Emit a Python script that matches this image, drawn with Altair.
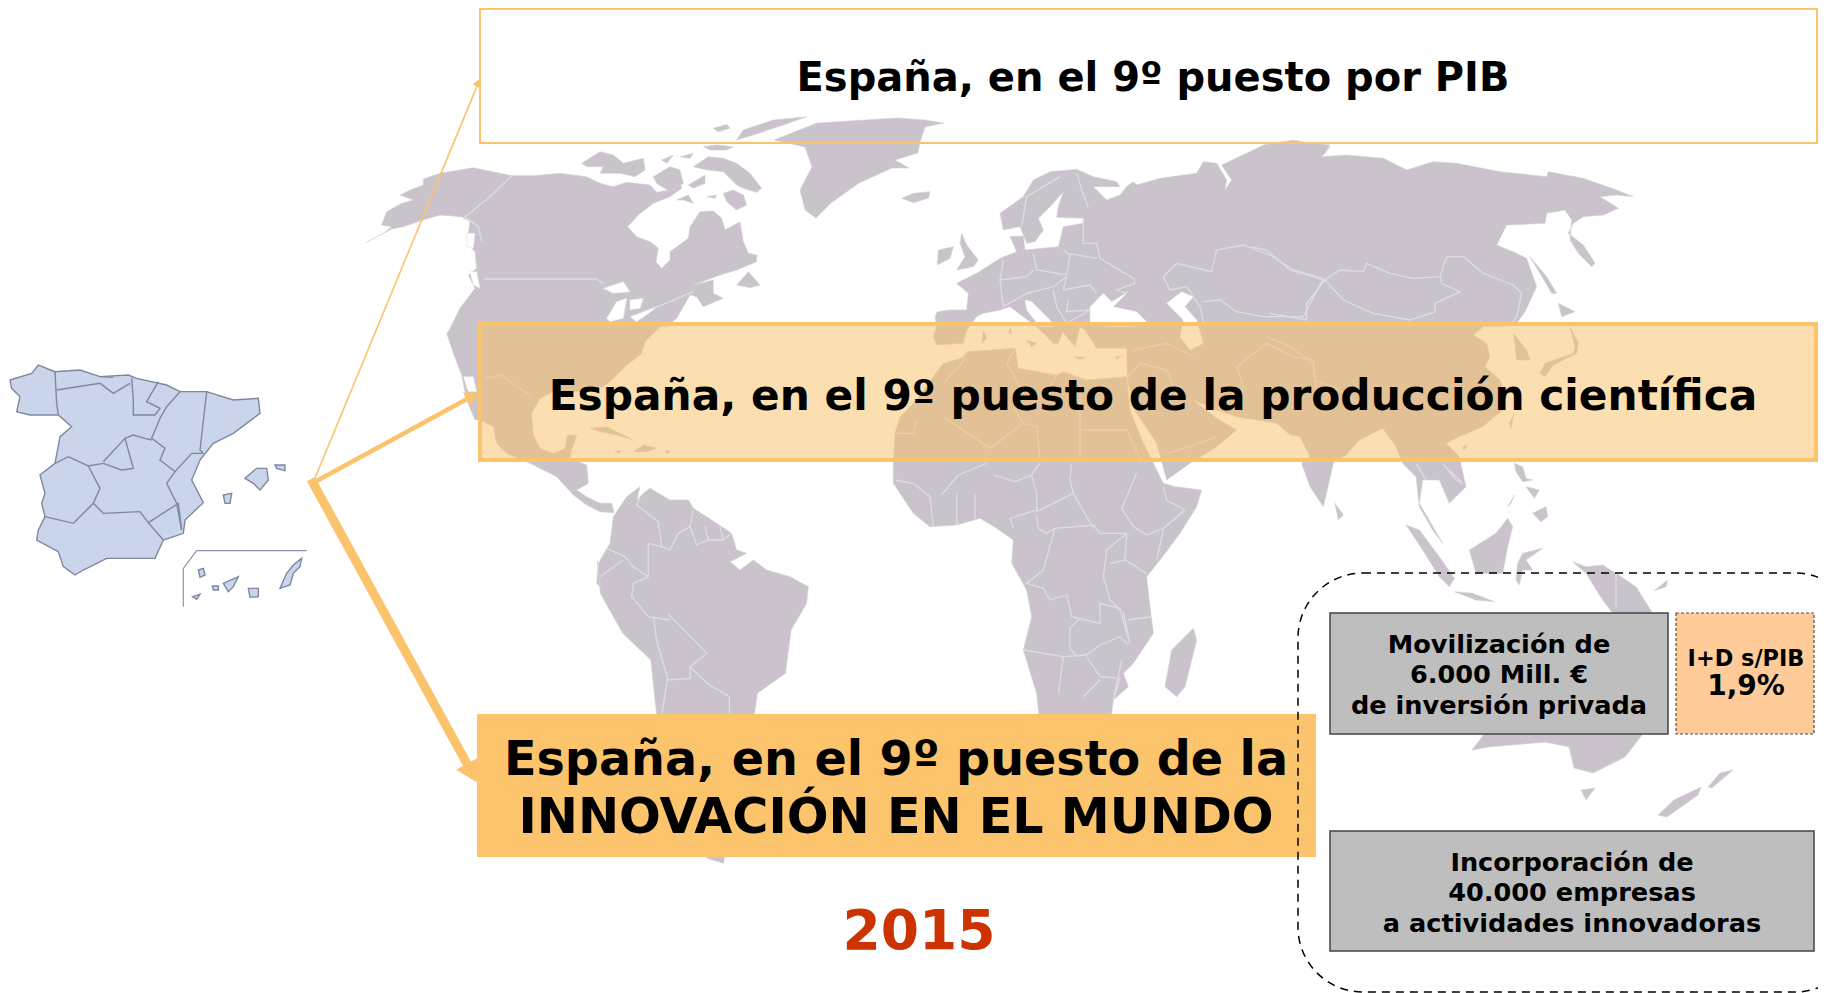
import math
import altair as alt

# ---------- picture crops: (x0, y0) origin, points read at 3x ----------
def T(x0, y0, pts):
    return [[x0 + p[0] / 3, y0 + p[1] / 3] for p in pts]

A = (360, 105)   # North America crop
B = (850, 130)   # Europe crop
C = (1250, 130)  # East Asia crop
N = (430, 320)   # Central / north of South America crop
E = (880, 400)   # Africa crop
D = (1326, 400)  # South-East Asia crop
M = (900, 320)   # Mediterranean / Middle East crop
S = (0, 340)     # Spain crop

def Z(x0, y0, fx, pts):
    return [[x0 + p[0] / fx, y0 + p[1] / 3] for p in pts]

# ---------- WORLD OUTLINES ----------
north_america_a = [(20,412),(70,385),(95,365),(65,360),(80,320),(125,295),(160,285),(120,270),(150,255),(190,240),(190,222),(240,205),(340,188),(420,205),(455,212),(520,212),(600,205),(680,215),(720,235),(760,245),(800,232),(870,240),(890,262),(930,255),(955,220),(965,250),(930,275),(880,295),(835,330),(803,365),(830,395),(870,410),(895,430),(888,470),(905,490),(930,465),(930,440),(985,400),(990,365),(1020,320),(1060,318),(1085,340),(1095,375),(1140,350),(1150,410),(1165,445),(1190,450),(1190,470),(1130,495),(1080,510),(1000,540),(1060,525),(1060,565),(1090,580),(1030,605),(1010,575),(990,570),(950,640),(920,665)]
north_america_n = [(690,20),(645,65),(635,100),(580,145),(545,180),(520,200),(470,215),(370,215),(330,235),(305,280),(310,345),(330,385),(370,400),(405,385),(412,345),(440,345),(425,390),(420,415),(470,435),(475,490),(440,510),(470,530),(510,550),(545,550),(552,578),(510,575),(470,555),(430,525),(380,470),(300,430),(230,400),(200,370),(190,320),(150,300),(135,300),(110,240),(95,165),(70,100),(50,40)]
north_america_w = [(265,680),(300,610),(345,550),(325,510),(350,490),(345,440),(325,420),(325,385),(330,350),(305,335),(240,330),(190,345),(130,365),(95,372)]
greenland = [(774,140),(817,123),(897,118),(925,120),(944,123),(925,127),(920,142),(918,153),(895,160),(909,168),(892,168),(859,183),(831,203),(816,218),(805,210),(800,190),(812,167),(805,147)]
arctic = [
 [(1000,185),(1045,155),(1090,160),(1130,175),(1170,205),(1205,250),(1190,262),(1150,250),(1130,240),(1090,200),(1040,195)],
 [(1090,265),(1120,255),(1150,270),(1160,300),(1130,315),(1100,290)],
 [(665,175),(720,140),(760,150),(790,175),(850,160),(855,195),(825,215),(780,205),(720,205),(730,185),(680,185)],
 [(1130,105),(1150,75),(1240,45),(1340,35),(1270,60),(1180,90)],
 [(1030,125),(1070,120),(1120,125),(1100,135),(1050,135)],
 [(1060,70),(1100,58),(1110,70),(1075,80)],
 [(905,165),(940,150),(920,175)],
 [(960,155),(1000,145),(990,160)],
 [(880,215),(930,185),(960,195),(970,235),(930,260),(890,235)],
 [(985,240),(1035,210),(1035,235),(1000,250)],
 [(950,285),(985,270),(1000,295),(970,285)],
 [(1040,275),(1070,270),(1065,280)],
 [(1130,540),(1165,500),(1200,540),(1170,548)],
]
caribbean = [
 [(480,325),(530,320),(610,360),(560,345),(510,335)],
 [(610,395),(640,375),(680,385),(650,395)],
 [(555,392),(575,392),(565,400)],
 [(705,392),(720,392),(712,400)],
]
eurasia_b1 = [(450,250),(520,200),(550,150),(600,125),(680,118),(730,140),(800,155),(810,170),(760,170),(730,170),(770,210),(810,195),(830,170),(850,155),(860,165),(930,145),(1040,130),(1060,95),(1100,100),(1130,150),(1125,180),(1145,150),(1115,105),(1190,70),(1240,45),(1330,30),(1380,40),(1440,45),(1420,75)]
eurasia_c = [(240,50),(215,80),(290,75),(400,85),(470,120),(550,95),(620,100),(750,125),(890,140),(895,125),(1000,145),(1100,180),(1150,200),(1100,195),(1050,200),(1105,235),(1060,255),(1000,260),(970,280),(955,310),(1000,345),(1035,400),(1025,410),(985,370),(960,330),(965,270),(945,240),(890,250),(885,280),(770,285),(740,345),(800,370),(830,385),(860,470),(825,545),(800,580),(760,590),(700,590),(670,615),(710,640),(720,680),(705,710),(750,750),(770,800),(750,850)]
eurasia_d = [(530,30),(470,80),(400,110),(360,130),(400,170),(420,260),(370,310),(340,240),(290,240),(280,310),(350,430),(320,390),(280,320),(270,230),(230,190),(210,140),(170,85),(100,120),(60,165),(20,190)]
eurasia_e = [(1360,190),(1330,320),(1290,260),(1265,190)]
eurasia_m = [(1230,410),(1200,350),(1170,345),(1130,310),(1010,290),(950,270),(880,240),(950,295),(1010,330),(950,380),(870,430),(800,480),(770,370),(700,265),(682,175),(680,85),(590,85),(555,30)]
eurasia_b2 = [(690,590),(675,650),(650,620),(625,590),(640,600),(625,640),(610,640),(560,590),(480,530),(450,540),(400,550),(380,560),(350,600),(340,640),(260,645),(250,620),(260,590),(255,560),(262,545),(300,540),(350,540),(355,490),(320,460),(380,430),(450,385),(500,365),(480,320),(520,318),(525,360),(625,350),(640,290),(700,280),(700,265),(620,262),(625,230),(640,185),(600,230),(565,265),(580,300),(555,335),(530,340),(510,290),(460,300)]
europe_isles = [
 [(335,310),(350,345),(385,390),(370,410),(320,420),(345,380),(330,340)],
 [(265,360),(310,350),(300,385),(262,405)],
 [(155,205),(190,190),(240,185),(235,205),(190,218)],
 [(400,600),(410,625),(395,640)],
 [(480,592),(487,610),(475,610)],
 [(530,630),(560,640),(545,650)],
 [(670,680),(710,682),(690,688)],
 [(795,680),(815,678),(800,688)],
]
asia_isles_c = [
 [(960,590),(975,650),(970,670),(885,700),(870,730),(885,740),(910,705),(980,670),(985,640)],
 [(925,520),(975,545),(935,560)],
 [(840,380),(890,440),(920,490),(905,490),(870,430)],
 [(790,610),(830,660),(840,690),(800,690),(795,640)],
]
asia_isles_d = [
 [(550,70),(565,40),(555,85)],
 [(410,140),(425,135),(415,150)],
 [(240,375),(280,390),(340,470),(385,535),(370,560),(340,530),(290,450)],
 [(385,575),(440,580),(505,605),(450,600)],
 [(430,450),(510,400),(545,355),(560,380),(545,440),(530,520),(450,520)],
 [(575,490),(590,460),(650,445),(600,480),(620,510),(590,510),(580,555),(570,540)],
 [(565,190),(590,200),(600,235),(620,240),(590,245),(570,215)],
 [(620,340),(660,320),(665,350),(645,365)],
 [(545,320),(565,285),(555,310)],
 [(600,260),(640,270),(625,295)],
 [(740,485),(780,500),(830,495),(870,520),(930,560),(980,640),(860,640),(830,600),(780,520)],
 [(985,572),(1025,540),(1020,560)],
]
oceania = [
 [(1472,750),(1482,737),(1500,700),(1640,700),(1642,735),(1625,757),(1593,773),(1574,768),(1569,747),(1545,742),(1489,747)],
 [(1581,790),(1595,788),(1586,800)],
 [(1658,815),(1674,800),(1701,787),(1698,795),(1667,817)],
 [(1708,787),(1720,773),(1733,770),(1712,788)],
]
africa_m = [(100,170),(130,130),(185,115),(200,95),(345,85),(355,145),(470,165),(490,155),(560,180),(680,170),(690,270)]
africa_e1 = [(790,130),(850,250),(885,260),(965,270),(950,320),(900,400),(840,480),(800,530),(810,620),(820,700),(760,790),(730,820),(745,860),(700,900),(690,980),(480,980),(470,880),(430,750),(455,650),(440,570),(395,490),(400,420),(350,385),(300,355),(230,375),(150,380),(100,340),(40,250),(40,190),(45,100),(60,50),(110,0)]
madagascar = [(940,685),(950,720),(915,860),(890,890),(855,860),(875,750)]
sri_lanka = [(1365,310),(1390,345),(1375,360)]
samerica_n = [(550,590),(590,530),(630,500),(620,540),(640,520),(660,505),(720,540),(775,540),(790,565),(860,610),(905,640),(920,690),(950,700),(900,725),(930,750),(970,720),(1010,750),(1080,770),(1135,800),(1130,850)]
samerica_s = [(590,510),(580,640),(530,700),(525,760),(480,1000),(470,1210),(440,1195),(350,900),(350,760),(340,600),(290,520),(250,400),(245,300)]
samerica_n2 = [(510,800),(500,790),(505,730),(540,670)]
# water cut out of the land
lakes_a = [[(730,550),(790,530),(810,560),(760,565)],[(740,640),(770,590),(800,580),(790,640),(750,650)],[(810,585),(850,580),(840,610),(810,615)],[(810,635),(890,605),(880,615),(830,650)],[(320,385),(345,385),(340,430),(322,425)],[(330,500),(350,500),(360,550),(340,540)]]
lake_baja = [(100,170),(130,170),(140,215),(115,215)]
seas_b = [[(720,575),(720,530),(760,490),(785,515),(835,485),(790,530),(860,545),(890,575),(850,590),(780,590),(730,585)],
          [(950,520),(995,485),(1030,500),(1005,530),(1040,570),(1060,640),(1020,660),(990,620),(1000,570)],
          [(525,510),(545,515),(600,570),(610,590),(570,590),(530,540)]]
# borders
borders_a = [[(455,212),(385,280),(315,335),(355,365),(365,410)],[(370,522),(710,522),(730,535)],[(1000,560),(930,590),(880,610)]]
borders_n = [[(165,175),(215,165),(260,200),(300,225)],[(630,530),(620,555),(685,605),(695,680),(655,670)],[(695,680),(720,690),(745,640),(780,620)],[(790,570),(780,620),(800,675),(835,660),(880,660),(905,640)],[(825,620),(835,660)],[(870,620),(880,660)],[(530,685),(585,710),(610,740),(655,770)],[(510,770),(580,720)],[(655,670),(655,770),(610,790),(605,830),(655,890),(720,900)]]
borders_s = [[(345,470),(350,540),(370,655),(360,760)],[(370,460),(440,580),(410,620),(410,655),(370,660)],[(410,620),(440,670),(480,710),(480,760)]]
borders_e = [[(50,100),(100,100),(110,60)],[(190,50),(330,145),(430,70),(470,80),(480,180)],[(430,70),(400,20)],[(600,40),(600,175)],[(600,90),(740,90),(780,175)],[(45,240),(100,250),(150,290),(160,380)],[(185,285),(235,225),(270,210),(320,190)],[(230,280),(230,375)],[(285,280),(285,355)],[(340,225),(405,245),(455,225),(470,280),(470,330),(390,355),(400,385)],[(450,230),(480,190)],[(575,190),(570,240),(580,280),(640,385)],[(470,335),(580,280)],[(470,345),(475,385),(500,400),(525,385),(640,375),(660,400),(740,400)],[(770,220),(725,325),(760,380),(800,405),(850,385),(915,330),(860,300),(850,260)],[(525,385),(490,510),(440,550),(490,565),(510,600),(560,585),(575,650),(660,670),(660,610),(720,625),(735,680),(750,730),(730,635)],[(740,400),(680,450),(670,530),(690,600),(720,630)],[(740,400),(735,480),(800,520)],[(690,490),(735,480)],[(850,390),(830,480)],[(745,660),(815,650)],[(430,750),(550,770),(620,765),(660,735),(720,710),(745,735)],[(570,685),(570,745),(590,770)],[(570,685),(600,655)],[(620,770),(660,830),(720,835),(700,900),(725,780)],[(550,770),(535,880)],[(660,840),(610,890)]]
borders_b = [[(630,140),(530,200),(515,290)],[(680,130),(700,195),(715,235)],[(700,265),(700,340),(740,340),(750,385),(850,445),(855,460),(800,480),(830,490)],[(655,370),(740,385)],[(550,370),(560,420),(650,435),(660,375),(640,360)],[(650,440),(640,480),(720,465),(740,490)],[(460,390),(450,450),(530,440),(550,420)],[(450,450),(460,530)],[(460,530),(530,490),(610,470),(650,440)],[(610,480),(620,530),(650,580),(720,540),(650,545),(655,510)],[(940,440),(980,400),(1085,425),(1100,360),(1180,345),(1260,375),(1330,420),(1420,445)],[(940,440),(960,480),(1010,470),(1050,530),(1060,575)],[(1060,515),(1110,510),(1160,545),(1240,560),(1360,560),(1420,445)]]
borders_m = [[(200,95),(185,130),(130,190)],[(345,85),(320,130),(350,180),(370,220)],[(470,165),(450,200)],[(540,190),(540,300)],[(680,175),(720,130),(800,150),(830,230)],[(700,90),(800,70),(880,110)],[(1010,140),(1030,200),(1010,270)],[(1010,140),(1100,70),(1180,110),(1240,120),(1245,180),(1320,210),(1400,270)],[(800,400),(870,380),(950,350)]]
borders_c = [[(0,350),(50,360),(120,420),(225,450)],[(225,450),(270,420),(340,425),(350,400),(420,430),(490,445),(570,440),(590,380),(640,380),(700,430),(790,465),(815,490),(800,560),(780,590)],[(225,450),(280,510),(370,550),(480,570),(555,545),(555,520),(630,485),(575,460),(570,440)],[(225,450),(170,520),(170,570),(60,550)],[(50,620),(120,650),(190,700),(200,790)]]
borders_d = [[(270,190),(300,240)],[(350,190),(390,240),(410,250),(370,210)],[(870,520),(870,620)]]

# ---------- SPAIN OUTLINES ----------
spain_mainland = [(30,120),(95,100),(115,75),(165,95),(240,90),(300,110),(385,105),(410,115),(500,135),(540,155),(620,155),(700,180),(775,175),(780,220),(700,280),(640,310),(600,360),(575,420),(610,488),(555,540),(550,580),(490,600),(465,655),(320,655),(250,690),(225,705),(190,680),(175,635),(110,600),(115,570),(135,530),(125,490),(135,460),(120,405),(165,370),(180,290),(215,260),(175,225),(90,225),(50,215),(60,170),(35,145)]
spain_islands = [
 [(735,415),(770,385),(800,385),(805,420),(780,450),(760,430)],
 [(825,375),(855,375),(855,392),(830,385)],
 [(670,465),(695,460),(690,490),(675,490)],
 [(595,690),(610,685),(615,705),(600,712)],
 [(670,730),(715,710),(700,740),(685,755)],
 [(637,738),(655,738),(655,750),(640,750)],
 [(578,770),(600,763),(590,778)],
 [(745,745),(775,745),(775,770),(750,772)],
 [(840,745),(860,700),(880,675),(905,655),(900,680),(880,700),(870,735)],
]
spain_borders = [
 [(165,95),(170,190),(175,225)],
 [(170,150),(300,130),(340,160),(390,130)],
 [(300,110),(340,112)],
 [(395,115),(400,180),(400,225),(465,225),(480,205),(440,185),(475,125)],
 [(540,155),(500,200),(480,235),(455,295),(495,325),(480,360),(525,395),(575,340),(610,340)],
 [(620,155),(600,330),(610,340)],
 [(310,365),(375,295),(400,385),(365,390),(310,370)],
 [(165,370),(205,350),(265,378),(310,370)],
 [(375,295),(400,285),(435,295),(455,300)],
 [(265,378),(300,445),(280,490),(220,550),(135,530)],
 [(280,490),(310,520),(420,515),(445,548)],
 [(445,548),(535,490),(545,570)],
 [(525,395),(500,430),(530,490),(545,570)],
 [(445,548),(490,600)],
]
canary_frame = [(550,800),(550,685),(590,632),(920,632)]

# ---------- BOXES ----------
box_names = ["pib", "ciencia", "innovacion", "movilizacion", "id", "empresas", "marco"]
box_x1 = [480, 480, 477, 1330, 1676, 1330, 1298]
box_x2 = [1817, 1816, 1316, 1668, 1814, 1814, 1860]
box_y1 = [9, 324, 714, 613, 613, 831, 573]
box_y2 = [143, 460, 857, 734, 734, 951, 992]

# ---------- ARROWS ----------
arrow_x0, arrow_y0 = 313, 483
arrow_tip_x = [480, 478, 477]
arrow_tip_y = [79, 393, 782]
arrow_width = [1.6, 4.5, 9]
arrow_head = [90, 240, 620]

# ---------- TEXT ----------
labels = ["España, en el 9º puesto por PIB", "España, en el 9º puesto de la producción científica",
          "España, en el 9º puesto de la", "INNOVACIÓN EN EL MUNDO", "2015",
          "Movilización de", "6.000 Mill. €", "de inversión privada",
          "I+D s/PIB", "1,9%",
          "Incorporación de", "40.000 empresas", "a actividades innovadoras"]
label_x = [1153, 1153, 896, 896, 919, 1499, 1499, 1499, 1746, 1746, 1572, 1572, 1572]
label_y = [91, 410, 775, 833, 949, 653, 683, 714, 666, 695, 871, 901, 932]
label_size = [40, 42.3, 47.6, 49.2, 55, 25.6, 25.6, 25.6, 22.4, 28, 25.6, 25.6, 25.6]
label_color = ["#000000"] * 4 + ["#CC3300"] + ["#000000"] * 8

# ---------- BUILD ----------
land_rings = (
    [T(*A, north_america_a) + T(*N, north_america_n) + T(*A, north_america_w)]
    + [greenland]
    + [T(*A, r) for r in arctic]
    + [T(*N, r) for r in caribbean]
    + [T(*B, eurasia_b1) + T(*C, eurasia_c) + T(*D, eurasia_d) + T(*E, eurasia_e) + T(*M, eurasia_m) + T(*B, eurasia_b2)]
    + [T(*B, r) for r in europe_isles]
    + [T(*C, r) for r in asia_isles_c]
    + [T(*D, r) for r in asia_isles_d]
    + oceania
    + [T(*M, africa_m) + T(*E, africa_e1)]
    + [T(*E, madagascar), T(*E, sri_lanka)]
    + [T(*N, samerica_n) + Z(460, 460, 1.782, samerica_s) + T(*N, samerica_n2)]
)
water_rings = [T(*A, r) for r in lakes_a] + [T(*N, lake_baja)] + [T(*B, r) for r in seas_b]
border_lines = ([T(*A, l) for l in borders_a] + [T(*N, l) for l in borders_n]
                + [Z(460, 460, 1.782, l) for l in borders_s] + [T(*E, l) for l in borders_e]
                + [T(*B, l) for l in borders_b] + [T(*M, l) for l in borders_m]
                + [T(*C, l) for l in borders_c] + [T(*D, l) for l in borders_d])
spain_rings = [T(*S, spain_mainland)] + [T(*S, r) for r in spain_islands]
spain_lines = [T(*S, l) for l in spain_borders]

def poly(rings):
    return [{"type": "Feature", "properties": {}, "geometry": {"type": "Polygon", "coordinates": [r + [r[0]]]}} for r in rings]

def line(lines):
    return [{"type": "Feature", "properties": {}, "geometry": {"type": "LineString", "coordinates": l}} for l in lines]

def geo(features, **style):
    return alt.Chart(alt.Data(values=features)).mark_geoshape(**style).project(type="identity", scale=1, translate=[-8, -8])

x_scale = alt.Scale(domain=[8, 1818], nice=False, zero=False)
y_scale = alt.Scale(domain=[993, 8], nice=False, zero=False)
X = lambda f: alt.X(f, type="quantitative", scale=x_scale, axis=None)
Y = lambda f: alt.Y(f, type="quantitative", scale=y_scale, axis=None)

boxes = [dict(name=n, x=a, x2=b, y=c, y2=d) for n, a, b, c, d in zip(box_names, box_x1, box_x2, box_y1, box_y2)]

def box(name, **style):
    return alt.Chart(alt.Data(values=[r for r in boxes if r["name"] == name])).mark_rect(**style).encode(
        x=X("x"), x2="x2", y=Y("y"), y2="y2")

arrows, heads = [], []
for tx, ty, w, h in zip(arrow_tip_x, arrow_tip_y, arrow_width, arrow_head):
    dx, dy = tx - arrow_x0, ty - arrow_y0
    d = math.hypot(dx, dy)
    r = math.sqrt(h) * 0.55
    cx, cy = tx - dx / d * r, ty - dy / d * r
    arrows.append(dict(x=arrow_x0, y=arrow_y0, x2=cx, y2=cy, w=w))
    heads.append(dict(x=cx, y=cy, s=h, a=math.degrees(math.atan2(dx, -dy)) % 360))

arrow_rules = alt.Chart(alt.Data(values=arrows)).mark_rule(color="#FBC36B", strokeCap="square").encode(
    x=X("x"), y=Y("y"), x2="x2", y2="y2", strokeWidth=alt.StrokeWidth("w:Q", scale=None, legend=None))
arrow_heads = alt.Chart(alt.Data(values=heads)).mark_point(shape="triangle", filled=True, color="#FBC36B", opacity=1).encode(
    x=X("x"), y=Y("y"), size=alt.Size("s:Q", scale=None, legend=None), angle=alt.Angle("a:Q", scale=None))

texts = alt.Chart(alt.Data(values=[dict(t=a, x=b, y=c, s=d, c=e) for a, b, c, d, e in zip(labels, label_x, label_y, label_size, label_color)])).mark_text(
    font="DejaVu Sans", fontWeight="bold", align="center", baseline="alphabetic").encode(
    x=X("x"), y=Y("y"), text="t:N", size=alt.Size("s:Q", scale=None, legend=None), color=alt.Color("c:N", scale=None, legend=None))

chart = alt.layer(
    geo(poly(land_rings), fill="#CAC3CC", stroke="#D5CFD7", strokeWidth=0.6),
    geo(poly(water_rings), fill="#FFFFFF", stroke="#E6E2E8", strokeWidth=0.6),
    geo(line(border_lines), fill=None, filled=False, stroke="#E0DCE3", strokeWidth=1.3),
    geo(poly(spain_rings), fill="#CAD5EC", stroke="#7E879E", strokeWidth=1.4),
    geo(line(spain_lines), fill=None, filled=False, stroke="#7E879E", strokeWidth=1.4),
    geo(line([T(*S, canary_frame)]), fill=None, filled=False, stroke="#9095AA", strokeWidth=1.2),
    box("pib", fillOpacity=0, fill="#FFFFFF", stroke="#FBC36B", strokeWidth=2),
    box("ciencia", fill="#F9BF61", fillOpacity=0.5, stroke="#FBC36B", strokeWidth=4),
    arrow_rules, arrow_heads,
    box("innovacion", fill="#FCC46C"),
    box("movilizacion", fill="#BEBEBE", stroke="#444444", strokeWidth=1.5),
    box("id", fill="#FFCC99", stroke="#5A4A3A", strokeWidth=1.2, strokeDash=[3, 2]),
    box("empresas", fill="#BEBEBE", stroke="#444444", strokeWidth=1.5),
    box("marco", fillOpacity=0, fill="#FFFFFF", stroke="#000000", strokeWidth=1.5, strokeDash=[8, 6], cornerRadius=65),
    texts,
).properties(width=1810, height=985, padding=0, autosize=alt.AutoSizeParams(type="none")).configure_view(stroke=None)

chart.save("out.html", embed_options={"renderer": "svg", "actions": False})
